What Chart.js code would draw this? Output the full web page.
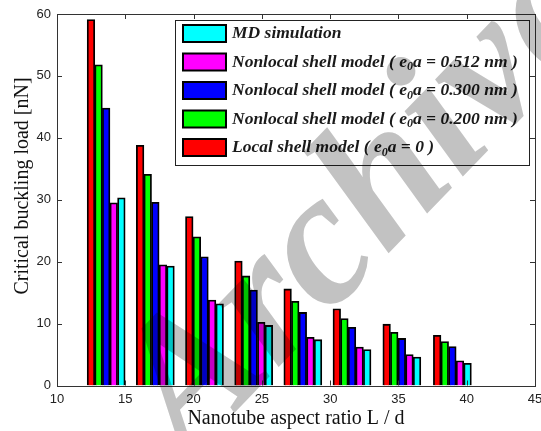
<!DOCTYPE html>
<html>
<head>
<meta charset="utf-8">
<script src="https://cdn.jsdelivr.net/npm/chart.js@4.4.1/dist/chart.umd.min.js"></script>
<style>
  html, body { margin: 0; padding: 0; background: #fff; }
</style>
</head>
<body>
<canvas id="chart" width="541" height="431"></canvas>
<script>
// values
const aspectRatio = [13.6, 17.2, 20.8, 24.4, 28.0, 31.6, 35.25, 38.95];
const localShell = [59.1, 38.8, 27.3, 20.1, 15.6, 12.4, 9.9, 8.1];
const nonlocal200 = [51.8, 34.1, 24.0, 17.7, 13.6, 10.8, 8.6, 7.1];
const nonlocal300 = [44.8, 29.6, 20.8, 15.4, 11.8, 9.4, 7.6, 6.3];
const nonlocal512 = [29.5, 19.5, 13.8, 10.2, 7.8, 6.2, 5.0, 4.0];
const mdSimulation = [30.3, 19.3, 13.2, 9.7, 7.4, 5.8, 4.6, 3.6];
const xTicks = [10, 15, 20, 25, 30, 35, 40, 45];
const yTicks = [0, 10, 20, 30, 40, 50, 60];
const yTitle = 'Critical buckling load [nN]';

function points(vals) {
    return vals.map((v, i) => ({ x: aspectRatio[i], y: v }));
}

// ======================
// Box with inward ticks (matlab style) + y title
// ======================
const boxPlugin = {
    id: 'box',
    afterDatasetsDraw(chart) {
        const { ctx, chartArea: a, scales } = chart;
        ctx.save();
        ctx.strokeStyle = '#333';
        ctx.lineWidth = 1;
        ctx.strokeRect(Math.round(a.left) + 0.5, Math.round(a.top) + 0.5,
            Math.round(a.right - a.left), Math.round(a.bottom - a.top));
        ctx.beginPath();
        xTicks.forEach(v => {
            const px = Math.round(scales.x.getPixelForValue(v)) + 0.5;
            ctx.moveTo(px, a.bottom); ctx.lineTo(px, a.bottom - 5);
            ctx.moveTo(px, a.top); ctx.lineTo(px, a.top + 5);
        });
        yTicks.forEach(v => {
            const py = Math.round(scales.y.getPixelForValue(v)) + 0.5;
            ctx.moveTo(a.left, py); ctx.lineTo(a.left + 5, py);
            ctx.moveTo(a.right, py); ctx.lineTo(a.right - 5, py);
        });
        ctx.stroke();

        ctx.translate(23, 186);
        ctx.rotate(-Math.PI / 2);
        ctx.fillStyle = '#111';
        ctx.font = '20px "Liberation Serif"';
        ctx.textAlign = 'center';
        ctx.textBaseline = 'middle';
        ctx.fillText(yTitle, 0, 0);
        ctx.restore();
    }
};

// ======================
// Legend box inside the plot
// ======================
const legendPlugin = {
    id: 'boxLegend',
    afterDraw(chart) {
        const ctx = chart.ctx;
        const sets = chart.data.datasets.slice().reverse();
        ctx.save();
        ctx.fillStyle = '#fff';
        ctx.fillRect(175.5, 20.5, 354, 145);
        ctx.strokeStyle = '#222';
        ctx.lineWidth = 1;
        ctx.strokeRect(175.5, 20.5, 354, 145);
        const font = 'bold italic 17.5px "Liberation Serif"';
        const subFont = 'bold italic 12px "Liberation Serif"';
        sets.forEach((ds, i) => {
            const cy = 33.5 + i * 28.5;
            ctx.fillStyle = ds.backgroundColor;
            ctx.fillRect(183, cy - 8.5, 43, 17);
            ctx.strokeStyle = '#000';
            ctx.lineWidth = 2;
            ctx.strokeRect(183, cy - 8.5, 43, 17);
            ctx.fillStyle = '#1a1a1a';
            ctx.textBaseline = 'middle';
            let x = 232;
            const parts = ds.label.split('\u2080');
            parts.forEach((p, k) => {
                ctx.font = font;
                ctx.fillText(p, x, cy);
                x += ctx.measureText(p).width;
                if (k < parts.length - 1) {
                    ctx.font = subFont;
                    ctx.fillText('0', x, cy + 5);
                    x += ctx.measureText('0').width;
                }
            });
        });
        ctx.restore();
    }
};

// ======================
// Grey watermark over everything
// ======================
const watermarkPlugin = {
    id: 'watermark',
    afterDraw(chart) {
        const ctx = chart.ctx;
        ctx.save();
        ctx.globalCompositeOperation = 'multiply';
        ctx.fillStyle = '#c2c2c2';
        ctx.translate(188, 461);
        ctx.rotate(-46 * Math.PI / 180);
        ctx.font = 'bold italic 190px "Liberation Serif"';
        ctx.textBaseline = 'alphabetic';
        ctx.fillText('Archive', 0, 0);
        ctx.restore();
    }
};

new Chart(document.getElementById('chart').getContext('2d'), {
    type: 'bar',
    data: {
        datasets: [
            { label: 'Local shell model ( e\u2080a = 0 )', data: points(localShell), backgroundColor: '#ff0000' },
            { label: 'Nonlocal shell model ( e\u2080a = 0.200 nm )', data: points(nonlocal200), backgroundColor: '#00ff00' },
            { label: 'Nonlocal shell model ( e\u2080a = 0.300 nm )', data: points(nonlocal300), backgroundColor: '#0000ff' },
            { label: 'Nonlocal shell model ( e\u2080a = 0.512 nm )', data: points(nonlocal512), backgroundColor: '#ff00ff' },
            { label: 'MD simulation', data: points(mdSimulation), backgroundColor: '#00ffff' }
        ]
    },
    options: {
        responsive: false,
        animation: false,
        devicePixelRatio: 1,
        layout: { padding: { top: 14, right: 0, left: 0, bottom: 0 } },
        datasets: {
            bar: { barThickness: 7.6, borderWidth: 1.8, borderColor: '#000', grouped: true }
        },
        scales: {
            x: {
                type: 'linear', min: 10, max: 45, offset: false,
                grid: { display: false, drawTicks: false },
                border: { display: false },
                afterBuildTicks: s => { s.ticks = xTicks.map(v => ({ value: v })); },
                afterFit: s => { s.height = 45.5; s.paddingRight = 6; s.paddingLeft = 0; },
                ticks: { font: { family: 'Liberation Sans', size: 13 }, color: '#222', padding: 6, maxRotation: 0, autoSkip: false },
                title: { display: true, text: 'Nanotube aspect ratio L / d', color: '#111',
                    font: { family: 'Liberation Serif', size: 20, lineHeight: 1.2 }, padding: { top: 0, bottom: 0 } }
            },
            y: {
                type: 'linear', min: 0, max: 60,
                grid: { display: false, drawTicks: false },
                border: { display: false },
                afterBuildTicks: s => { s.ticks = yTicks.map(v => ({ value: v })); },
                afterFit: s => { s.width = 57; s.paddingTop = 0; },
                ticks: { font: { family: 'Liberation Sans', size: 13 }, color: '#222', padding: 6 },
                title: { display: false }
            }
        },
        plugins: { legend: { display: false }, tooltip: { enabled: false } }
    },
    plugins: [boxPlugin, legendPlugin, watermarkPlugin]
});
</script>
</body>
</html>
